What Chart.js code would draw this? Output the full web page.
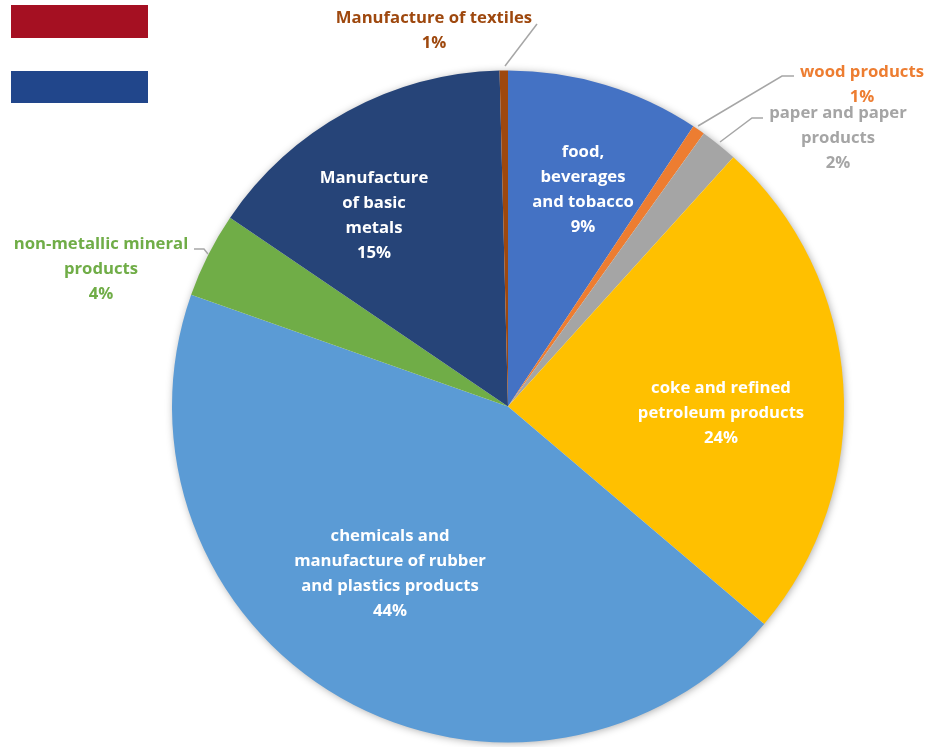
<!DOCTYPE html>
<html>
<head>
<meta charset="utf-8">
<title>Manufacturing sectors</title>
<script src="https://cdn.jsdelivr.net/npm/chart.js@4"></script>
<style>
  html, body { margin: 0; padding: 0; background: #fff; }
  #wrap { position: relative; width: 943px; height: 747px; overflow: hidden; }
  canvas { position: absolute; left: 0; top: 0; }
  .flag { position: absolute; left: 11px; width: 137px; }
</style>
</head>
<body>
<div id="wrap">
  <canvas id="pie" width="943" height="747"></canvas>
  <div class="flag" style="top:5px;height:33px;background:#a51022"></div>
  <div class="flag" style="top:71px;height:32px;background:#21468b"></div>
</div>
<script>
// sectors, clockwise from the top of the pie
const categories = [
  'food, beverages and tobacco',
  'wood products',
  'paper and paper products',
  'coke and refined petroleum products',
  'chemicals and manufacture of rubber and plastics products',
  'non-metallic mineral products',
  'Manufacture of basic metals',
  'Manufacture of textiles'
];
const shares = [9.3, 0.6, 1.8, 24.5, 44.2, 4.1, 15.1, 0.4];
const percentLabels = ['9%', '1%', '2%', '24%', '44%', '4%', '15%', '1%'];
const colors = ['#4472c4', '#ed7d31', '#a5a5a5', '#ffc000', '#5b9bd5', '#70ad47', '#264478', '#9e480e'];

// how each label is broken and placed, same order as categories
const labelLines = [
  ['food,', 'beverages', 'and tobacco'],
  ['wood products'],
  ['paper and paper', 'products'],
  ['coke and refined', 'petroleum products'],
  ['chemicals and', 'manufacture of rubber', 'and plastics products'],
  ['non-metallic mineral', 'products'],
  ['Manufacture', 'of basic', 'metals'],
  ['Manufacture of textiles']
];
const labelPos = [[583, 152], [862, 72], [838, 113], [721, 388], [390, 536], [101, 244], [374, 178], [434, 18]];
const labelColors = ['#fff', '#ed7d31', '#a5a5a5', '#fff', '#fff', '#70ad47', '#fff', '#9e480e'];
const leaders = [
  [[505, 66], [537, 24]],
  [[698, 126], [782, 76], [794, 76]],
  [[720, 142], [752, 118], [763, 118]],
  [[208, 254], [204, 249], [194, 249]]
];

const pieExtras = {
  id: 'pieExtras',
  beforeDatasetsDraw(chart) {
    // soft shadow round the whole pie
    const arc = chart.getDatasetMeta(0).data[0];
    const ctx = chart.ctx;
    ctx.save();
    ctx.shadowColor = 'rgba(0,0,0,0.38)';
    ctx.shadowBlur = 9;
    ctx.shadowOffsetX = 1;
    ctx.shadowOffsetY = 1;
    ctx.fillStyle = '#fff';
    ctx.beginPath();
    ctx.arc(arc.x, arc.y, arc.outerRadius - 1, 0, Math.PI * 2);
    ctx.fill();
    ctx.restore();
  },
  afterDatasetsDraw(chart) {
    const ctx = chart.ctx;
    ctx.save();
    ctx.strokeStyle = '#a6a6a6';
    ctx.lineWidth = 1.5;
    leaders.forEach(points => {
      ctx.beginPath();
      points.forEach((p, i) => i ? ctx.lineTo(p[0], p[1]) : ctx.moveTo(p[0], p[1]));
      ctx.stroke();
    });
    ctx.font = '700 16.7px "Open Sans"';
    ctx.textAlign = 'center';
    ctx.textBaseline = 'middle';
    labelLines.forEach((lines, i) => {
      ctx.fillStyle = labelColors[i];
      lines.concat(percentLabels[i]).forEach((text, n) => {
        ctx.fillText(text, labelPos[i][0], labelPos[i][1] + n * 25);
      });
    });
    ctx.restore();
  }
};

new Chart(document.getElementById('pie'), {
  type: 'pie',
  data: {
    labels: categories,
    datasets: [{ data: shares, backgroundColor: colors, borderWidth: 0 }]
  },
  options: {
    responsive: false,
    animation: false,
    layout: { padding: { left: 172, right: 99, top: 69, bottom: 3 } },
    plugins: { legend: { display: false }, tooltip: { enabled: false } }
  },
  plugins: [pieExtras]
});
</script>
</body>
</html>
